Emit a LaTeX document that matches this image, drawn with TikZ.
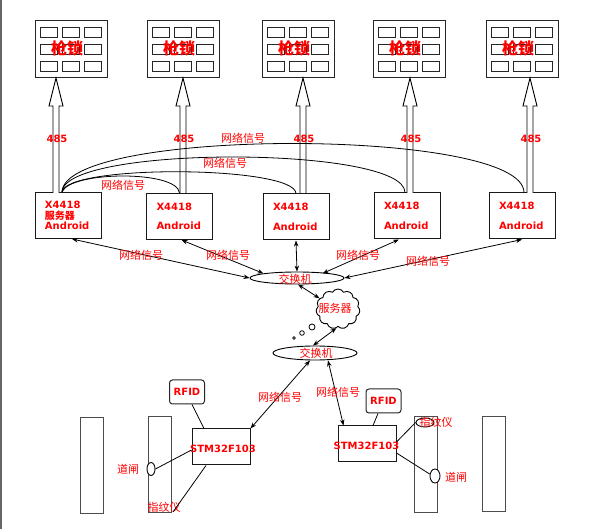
\documentclass[tikz,border=0pt]{standalone}
\usepackage{fontspec}
\setmainfont{DejaVu Sans}
\newfontfamily\cjk{Noto Sans CJK SC}
\usetikzlibrary{arrows.meta,shapes.geometric,shapes.symbols}
\tikzset{
	lockbox/.style={draw=black!85, line width=1pt, minimum width=72pt, minimum height=57pt, inner sep=0pt},
	cellbox/.style={draw=black!85, line width=0.9pt},
	andbox/.style={draw=black!90, line width=1pt, minimum width=66pt, minimum height=46pt, text width=46pt, inner xsep=10pt, inner ysep=0pt, align=left, text=red, font=\bfseries\fontsize{10}{10.5}\selectfont},
	stmbox/.style={draw=black!90, line width=1pt, minimum width=58pt, minimum height=36pt, inner sep=0pt},
	rfidbox/.style={draw=black!85, line width=1pt, rounded corners=3pt, minimum width=35pt, minimum height=24pt, inner sep=0pt},
	post/.style={draw=black!70, line width=1pt, minimum width=23pt, minimum height=95pt, inner sep=0pt},
	switch/.style={ellipse, draw, line width=0.9pt, inner sep=0pt},
	sensor/.style={ellipse, draw, fill=white, line width=0.9pt, inner sep=0pt},
	lbl/.style={text=red, inner sep=0pt, font=\cjk\fontsize{11}{11}\selectfont},
	num/.style={text=red, inner sep=0pt, font=\bfseries\fontsize{10}{10}\selectfont},
	link/.style={line width=0.8pt, {Stealth[length=6pt,width=4.5pt]}-{Stealth[length=6pt,width=4.5pt]}},
	wire/.style={line width=0.8pt},
}

\begin{document}
\begin{tikzpicture}[x=1pt,y=-1pt]
			%%%%% START %%%%%
			\useasboundingbox (0,0) rectangle (595,529);
			\fill[white] (0,0) rectangle (595,529);
			\draw[black!60, line width=1.5pt] (0.75,0) -- (0.75,529);
			
			% gun locks
			\foreach \i/\lx in {1/71,2/183,3/298,4/409,5/522} {
				\node[lockbox] (l\i) at (\lx,49.5) {};
				\foreach \dx in {-22,0,22}
					\foreach \dy in {-17,0,17}
						\draw[cellbox] (\lx+\dx-8.5,49.5+\dy-5) rectangle ++(17,10);
				\node[text=red, inner sep=0pt, font=\cjk\bfseries\fontsize{16}{16}\selectfont] (lt\i) at (\lx-4,48) {枪锁};
			}
			
			% X4418 boards
			\node[andbox, font=\bfseries\fontsize{10}{10.5}\selectfont] (a1) at (68,215.5) {X4418\\{\cjk 服务器}\\Android};
			\node[andbox] (a2) at (179.5,216.5) {X4418\\[9pt]Android};
			\node[andbox] (a3) at (296,217) {X4418\\[9pt]Android};
			\node[andbox] (a4) at (407,216) {X4418\\[9pt]Android};
			\node[andbox] (a5) at (522,216) {X4418\\[9pt]Android};
			
			% 485 buses
			\foreach \i/\ax in {1/56,2/183,3/303,4/410,5/530} {
				\draw[line width=0.9pt, fill=white] (\ax-3,193) -- (\ax-3,106) -- (\ax-7,106) -- (\ax,78) -- (\ax+7,106) -- (\ax+3,106) -- (\ax+3,193);
				\node[num] (n\i) at (\ax+1,139) {485};
			}
			
			% network from the server board
			\coordinate (a1top) at ([xshift=-6pt]a1.north);
			\draw[wire] (a1top) .. controls +(8,-21) and +(-2,-23) .. (a2.north);
			\draw[wire] (a1top) .. controls +(4,-28) and +(-1,-28) .. (a3.north);
			\draw[wire] (a1top) .. controls +(2,-47) and +(0,-47) .. ([xshift=-2pt]a4.north);
			\draw[wire] (a1top) .. controls +(2,-65) and +(0,-65) .. ([xshift=2pt]a5.north);
			\node[lbl] (w1) at (123,185) {网络信号};
			\node[lbl] (w2) at (225,163) {网络信号};
			\node[lbl] (w3) at (243,138) {网络信号};
			
			% switches and server
			\node[switch, minimum width=94pt, minimum height=12pt] (s1) at (297,278) {};
			\node[lbl] (s1t) at (295,279) {交换机};
			\node[cloud, draw, line width=0.9pt, cloud puffs=11, cloud puff arc=120, aspect=1.1, minimum width=44pt, minimum height=40pt, inner sep=0pt] (cl) at (338,309) {};
			\node[lbl] (clt) at (335,308) {服务器};
			\draw[line width=0.8pt] (312,327) circle[radius=3pt];
			\draw[line width=0.8pt] (302,333) circle[radius=2.3pt];
			\draw[line width=0.8pt] (294,338) circle[radius=1.4pt];
			\node[switch, minimum width=84pt, minimum height=14pt] (s2) at (315,353) {};
			\node[lbl] (s2t) at (316,353) {交换机};
			
			\draw[link] ([xshift=4pt]a1.south) -- (s1.west);
			\draw[link] ([xshift=2pt]a2.south) -- (s1.north west);
			\draw[link] (a3.south) -- (s1.north);
			\draw[link] ([xshift=-8pt]a4.south) -- ([xshift=-8pt]s1.north east);
			\draw[link] (a5.south) -- (s1.east);
			\draw[link] ([xshift=1pt]s1.south) -- (cl.150);
			\draw[link] (cl.265) -- ([xshift=-2pt]s2.north);
			\node[lbl] (w4) at (141,255) {网络信号};
			\node[lbl] (w5) at (228,255) {网络信号};
			\node[lbl] (w6) at (358,255) {网络信号};
			\node[lbl] (w7) at (428,261) {网络信号};
			
			% left gate
			\node[stmbox] (m1) at (221,447) {};
			\node[num] (m1t) at (223,449) {STM32F103};
			\node[rfidbox] (r1) at (187,392) {};
			\node[num] (r1t) at (187,392) {RFID};
			\node[post] (p1) at (91.5,465.5) {};
			\node[post] (p2) at (159.5,464.5) {};
			\node[sensor, minimum width=8pt, minimum height=13pt] (g1) at (151,469) {};
			\node[lbl] (g1t) at (128,469) {道闸};
			\node[lbl] (f1t) at (164,507) {指纹仪};
			\coordinate (f1) at (173,512);
			\draw[wire] ([xshift=5pt]r1.south) -- ([xshift=-17pt]m1.north);
			\draw[wire] (g1.east) -- ([yshift=-3pt]m1.west);
			\draw[wire] ([xshift=-15pt]m1.south) -- (f1);
			
			% right gate
			\node[stmbox] (m2) at (367,444) {};
			\node[num] (m2t) at (366.5,446) {STM32F103};
			\node[rfidbox] (r2) at (383.5,401) {};
			\node[num] (r2t) at (383.5,401) {RFID};
			\node[post] (p3) at (426,464.5) {};
			\node[post] (p4) at (493.5,464) {};
			\node[sensor, minimum width=18pt, minimum height=9pt] (f2) at (425,422.5) {};
			\node[lbl] (f2t) at (436,422) {指纹仪};
			\node[sensor, minimum width=10pt, minimum height=14pt] (g2) at (435,476) {};
			\node[lbl] (g2t) at (456,477) {道闸};
			\draw[wire] ([xshift=-5.5pt]r2.south) -- ([xshift=6pt]m2.north);
			\draw[wire] ([yshift=2pt]m2.east) -- (f2.west);
			\draw[wire] ([yshift=-9pt]m2.east) -- (g2.160);
			
			% links to the gates
			\draw[link] ([xshift=-5pt]s2.south) -- (m1.north east);
			\draw[link] ([xshift=13pt]s2.south) -- ([xshift=6pt]m2.north west);
			\node[lbl] (w8) at (280,397) {网络信号};
			\node[lbl] (w9) at (338,392) {网络信号};
			%%%%% END %%%%%
\end{tikzpicture}
\end{document}
